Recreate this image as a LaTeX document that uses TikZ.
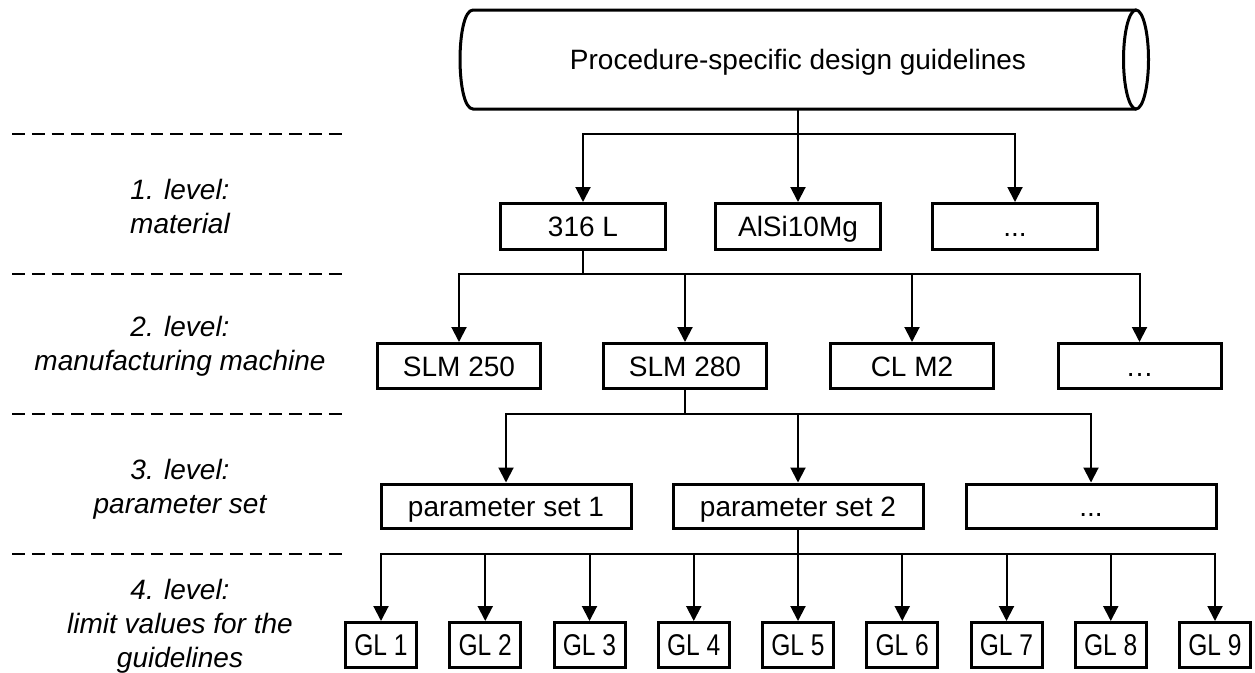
\documentclass[tikz,border=0pt]{standalone}
\usepackage{fontspec}
\setmainfont{Liberation Sans}
\usepackage{graphicx}
\usetikzlibrary{arrows.meta}
\tikzset{
  txt/.style={font=\fontsize{28}{34}\selectfont},
  box/.style={txt, draw, line width=3pt, inner sep=0pt, text height=20pt, text depth=0pt},
  lvA/.style={box, minimum width=165pt, minimum height=46pt},
  lvB/.style={box, minimum width=163pt, minimum height=45pt},
  lvC/.style={box, minimum width=250pt, minimum height=44pt},
  lvD/.style={box, minimum width=71pt, minimum height=45pt, font=\fontsize{30}{34}\selectfont, text height=21.5pt},
  conn/.style={line width=2pt, -{Triangle[length=15pt,width=15pt]}},
  sep/.style={line width=1.5pt, dash pattern=on 12.7pt off 7.1pt},
  lbl/.style={txt, align=center, font=\fontsize{28}{34}\selectfont\itshape},
  outline/.style={line width=3pt},
}
\begin{document}
\begin{tikzpicture}[x=1pt,y=-1pt]
\useasboundingbox (0,0) rectangle (1255,672);

% top cylinder
\draw[outline] (1136,10) -- (473,10) .. controls (455.7,10) and (455.7,109) .. (473,109) -- (1136,109);
\draw[outline] (1136,59.5) ellipse [x radius=12.5, y radius=49.5];
\node[txt, minimum height=99pt, inner sep=0pt, text height=20pt, text depth=0pt] (title) at (798,59.5) {Procedure-specific design guidelines};

% bus coordinates
\coordinate (b0) at (0,134);
\coordinate (b1) at (0,274);
\coordinate (b2) at (0,414);
\coordinate (b3) at (0,554);

% separators
\draw[sep] (12,134) -- (343,134);
\draw[sep] (12,274) -- (343,274);
\draw[sep] (12,414) -- (343,414);
\draw[sep] (12,554) -- (343,554);

% level labels
\node[lbl] (l1) at (180,206) {1. level:\\material};
\node[lbl] (l2) at (180,346) {2. level:\\manufacturing machine};
\node[lbl] (l3) at (180,489) {3. level:\\parameter set};
\node[lbl] (l4) at (180,626) {4. level:\\limit values for the\\guidelines};

% level 1
\node[lvA] (m1) at (583,226.5) {316 L};
\node[lvA] (m2) at (798,226.5) {AlSi10Mg};
\node[lvA] (m3) at (1015,226.5) {...};

% level 2
\node[lvB] (s1) at (459,366) {SLM 250};
\node[lvB] (s2) at (685,366) {SLM 280};
\node[lvB] (s3) at (912,366) {CL M2};
\node[lvB] (s4) at (1139.5,366) {…};

% level 3
\node[lvC] (p1) at (506,506) {parameter set 1};
\node[lvC] (p2) at (798,506) {parameter set 2};
\node[lvC] (p3) at (1091,506) {...};

% level 4
\foreach \k in {1,...,9} {
  \node[lvD] (g\k) at ({381+104.25*(\k-1)},645) {\scalebox{0.82}[1]{GL \k}};
}

% connectors
\foreach \t in {m1,m2,m3}
  \draw[conn] (title.south) -- (title.south |- b0) -| (\t.north);
\foreach \t in {s1,s2,s3,s4}
  \draw[conn] (m1.south) -- (m1.south |- b1) -| (\t.north);
\foreach \t in {p1,p2,p3}
  \draw[conn] (s2.south) -- (s2.south |- b2) -| (\t.north);
\foreach \k in {1,...,9}
  \draw[conn] (p2.south) -- (p2.south |- b3) -| (g\k.north);
\end{tikzpicture}
\end{document}
